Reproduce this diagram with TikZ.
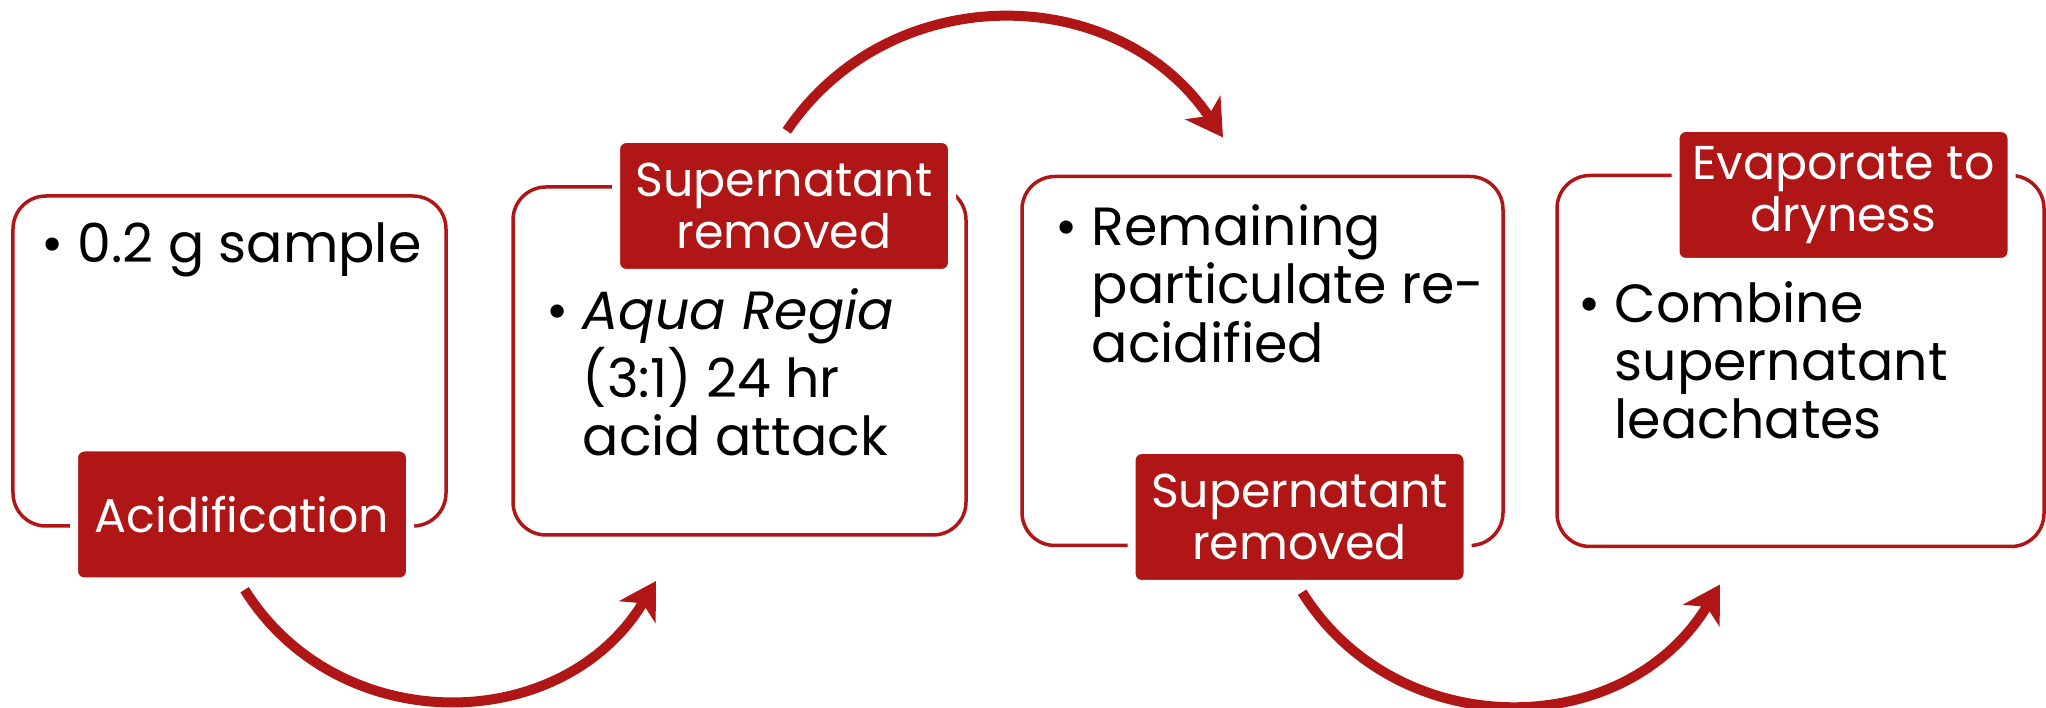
\documentclass[tikz,border=0pt]{standalone}
\usepackage{fontspec}
\setmainfont{Poppins}
\usetikzlibrary{positioning}
\usetikzlibrary{shapes,arrows,arrows.meta}
\definecolor{acidred}{RGB}{176,22,22}
\newcommand{\bitem}{\makebox[0.36cm][l]{\textbullet}}

\begin{document}
\begin{tikzpicture}[stepbox/.style={rectangle,
                                     rounded corners=0.33cm,
                                     inner sep=0mm,outer sep=0,
                                     draw=acidred,
                                     line width=0.035cm
                                    },
                    steptag/.style={rectangle,
                                     rounded corners=0.1cm,
                                     fill=acidred, draw=white,
                                     line width=0.08cm,
                                     text=white, align=center,
                                     minimum width=3.36cm, minimum height=1.34cm,
                                     font=\fontsize{13.5}{15}\selectfont
                                    },
                    steptext/.style={anchor=base west, inner sep=0mm,
                                     font=\fontsize{15.3}{16.5}\selectfont
                                    },
                    flowarrow/.style={
                                     line width=0.1cm,
                                     draw=acidred,
                                     -{Stealth[length=0.36cm,width=0.42cm,inset=0.1cm]},
                                     shorten <=0.05cm
                                    }
                    ]
  \useasboundingbox (0,0) rectangle (20.46,7.07);
  \node[stepbox, minimum width=4.33cm, minimum height=3.30cm] (b1) at (2.295,3.46) { };
  \node[stepbox, right=0.67cm of b1, minimum width=4.53cm, minimum height=3.48cm] (b2) { };
  \node[stepbox, right=0.56cm of b2, minimum width=4.81cm, minimum height=3.69cm] (b3) { };
  \node[stepbox, right=0.54cm of b3, minimum width=4.87cm, minimum height=3.71cm] (b4) { };

  \node[steptext] (s1) at ([xshift=0.28cm,yshift=-0.67cm]b1.north west)
    {\begin{tabular}[t]{@{}l@{}l@{}}\bitem & 0.2 g sample\end{tabular}};
  \node[steptext] (s2) at ([xshift=0.33cm,yshift=-1.43cm]b2.north west)
    {\begin{tabular}[t]{@{}l@{}l@{}}\bitem & \textit{Aqua Regia}\\ & (3:1) 24 hr\\ & acid attack\end{tabular}};
  \node[steptext] (s3) at ([xshift=0.33cm,yshift=-0.69cm]b3.north west)
    {\begin{tabular}[t]{@{}l@{}l@{}}\bitem & Remaining\\ & particulate re-\\ & acidified\end{tabular}};
  \node[steptext] (s4) at ([xshift=0.21cm,yshift=-1.47cm]b4.north west)
    {\begin{tabular}[t]{@{}l@{}l@{}}\bitem & Combine\\ & supernatant\\ & leachates\end{tabular}};

  \node[steptag] (t1) at ([xshift=0.125cm,yshift=0.115cm]b1.south) {Acidification};
  \node[steptag] (t2) at ([xshift=0.445cm,yshift=-0.19cm]b2.north) {Supernatant\\removed};
  \node[steptag] (t3) at ([xshift=0.37cm,yshift=0.285cm]b3.south) {Supernatant\\removed};
  \node[steptag] (t4) at ([xshift=0.43cm,yshift=-0.195cm]b4.north) {Evaporate to\\dryness};

  % arrow ends
  \coordinate (a1) at ([xshift=1.43cm,yshift=-0.46cm]b2.south west);
  \coordinate (a2) at ([xshift=2.01cm,yshift=0.39cm]b3.north west);
  \coordinate (a3) at ([xshift=1.63cm,yshift=-0.38cm]b4.south west);

  \draw [flowarrow] (t1.south) to[out=-58,in=-121,looseness=1.12] (a1);
  \draw [flowarrow] (t2.north) to[out=56,in=124,looseness=1.10] (a2);
  \draw [flowarrow] (t3.south) to[out=-58,in=-121,looseness=1.12] (a3);
\end{tikzpicture}
\end{document}
